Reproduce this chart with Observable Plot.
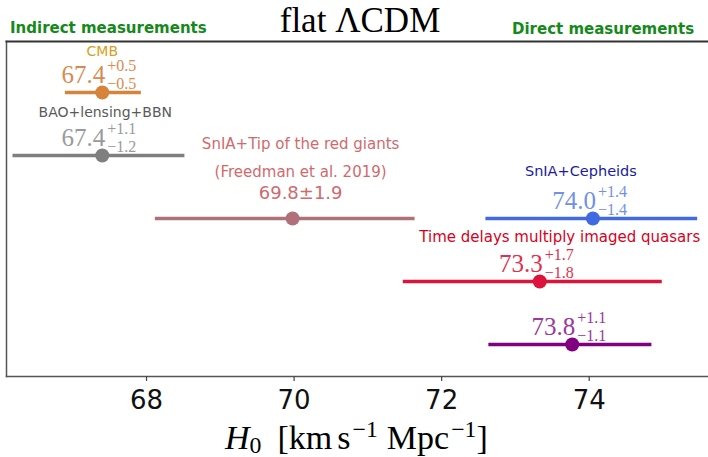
<!DOCTYPE html>
<html>
<head>
<meta charset="utf-8">
<script src="https://cdn.jsdelivr.net/npm/d3@7"></script>
<script src="https://cdn.jsdelivr.net/npm/@observablehq/plot@0.6"></script>
<style>
  html, body { margin: 0; padding: 0; background: #fff; }
  #wrap { position: relative; width: 708px; height: 457px; overflow: hidden; }
  #chart { position: absolute; left: 0; top: 0; }
  .ov { position: absolute; white-space: nowrap; line-height: 1; }
  .serif { font-family: "Liberation Serif", "DejaVu Serif", serif; }
  .green { font-family: "DejaVu Sans", sans-serif; font-weight: bold; font-size: 15px; color: #15891a; }
  .ov sub, .ov sup { font-size: 0.7em; line-height: 0; position: relative; vertical-align: baseline; }
  .ov sub { top: 0.18em; }
  .ov sup { top: -0.5em; margin-left: 2px; }
</style>
</head>
<body>
<div id="wrap">
  <div id="chart"></div>
  <div class="ov serif" id="title" style="font-size:35px; left:360px; top:3.2px; transform:translateX(-50%);">flat ΛCDM</div>
  <div class="ov green" style="left:10px; top:20.6px;">Indirect measurements</div>
  <div class="ov green" style="left:512px; top:22.3px;">Direct measurements</div>
  <div class="ov serif" id="xlabel" style="font-size:34px; left:225px; top:421px; height:34px;"><i>H</i><sub>0</sub><span style="margin-left:16px">[km</span><span style="margin-left:5px">s</span><sup>−1</sup><span style="margin-left:9px">Mpc</span><sup>−1</sup>]</div>
</div>
<script>
// ---- data ----
const names    = ["CMB", "BAO+lensing+BBN", "SnIA+Tip of the red giants", "SnIA+Cepheids", "Time delays multiply imaged quasars", ""];
const subNames = ["", "", "(Freedman et al. 2019)", "", "", ""];
const rows     = ["r1", "r2", "r3", "r3", "r4", "r5"];
const h0       = [67.4, 67.4, 69.98, 74.05, 73.33, 73.77];
const errLo    = [66.90, 66.19, 68.12, 72.60, 71.48, 72.64];
const errHi    = [67.93, 68.52, 71.64, 75.47, 74.99, 74.85];
const valMain  = ["67.4", "67.4", "69.8±1.9", "74.0", "73.3", "73.8"];
const valPlus  = ["+0.5", "+1.1", "", "+1.4", "+1.7", "+1.1"];
const valMinus = ["−0.5", "−1.2", "", "−1.4", "−1.8", "−1.1"];
const xTicks   = [68, 70, 72, 74];
const xDomain  = [66.102, 75.617];

// ---- styles ----
const lineColors = ["#d6843c", "#7f7f7f", "#b0707a", "#4169e1", "#dc143c", "#800080"];
const nameColors = ["#d4a020", "#5a5a5a", "#d06a6e", "#1c1c9c", "#d8001c", "#800080"];
const valColors  = ["#d98a50", "#9a9a9a", "#d06a6e", "#7190e8", "#e0304e", "#9a3a9a"];
const nameLayout = [
  {dx: 0,  dy: -41,   size: 14},
  {dx: 3,  dy: -42.5, size: 14},
  {dx: 8,  dy: -74.5, size: 15},
  {dx: -12, dy: -47.3, size: 14.5},
  {dx: 20, dy: -44,   size: 15},
  {dx: 0,  dy: 0,     size: 14}
];

const data = names.map((n, i) => ({
  i, name: n, sub: subNames[i], row: rows[i], h0: h0[i], lo: errLo[i], hi: errHi[i],
  main: valMain[i], plus: valPlus[i], minus: valMinus[i],
  line: lineColors[i], nameColor: nameColors[i], valColor: valColors[i]
}));

const sans = "DejaVu Sans, sans-serif";
const serif = "Liberation Serif, DejaVu Serif, serif";

const marks = [
  Plot.frame({anchor: "left", stroke: "#555", strokeWidth: 1.5}),
  Plot.frame({anchor: "top", stroke: "#333", strokeWidth: 2}),
  Plot.frame({anchor: "bottom", stroke: "#555", strokeWidth: 1.5}),
  Plot.axisX(xTicks, {tickSize: 5, tickPadding: 9, fontSize: 26, fontFamily: sans, fill: "#111", stroke: "#444", strokeWidth: 1.2, label: null}),
  Plot.ruleY(data, {y: "row", x1: "lo", x2: "hi", stroke: d => d.line, strokeWidth: 3.6}),
  Plot.dot(data, {x: "h0", y: "row", r: 7, fill: d => d.line, stroke: "none"})
];

// name labels
data.forEach((d, i) => {
  const L = nameLayout[i];
  if (d.name) marks.push(Plot.text([d], {x: "h0", y: "row", text: "name", dx: L.dx, dy: L.dy, fill: d.nameColor, fontSize: L.size, fontFamily: sans}));
  if (d.sub) marks.push(Plot.text([d], {x: "h0", y: "row", text: "sub", dx: L.dx, dy: L.dy + 27.7, fill: d.nameColor, fontSize: L.size, fontFamily: sans}));
});

// value labels: LaTeX-like main value with stacked super/subscripts
const latex = data.filter(d => d.plus);
const plain = data.filter(d => !d.plus);
marks.push(
  Plot.text(latex, {x: "h0", y: "row", text: "main", textAnchor: "end", lineAnchor: "bottom", dx: 3, dy: -10, fill: d => d.valColor, fontSize: 25, fontFamily: serif}),
  Plot.text(latex, {x: "h0", y: "row", text: "plus", textAnchor: "start", lineAnchor: "bottom", dx: 5, dy: -21.5, fill: d => d.valColor, fontSize: 16, fontFamily: serif}),
  Plot.text(latex, {x: "h0", y: "row", text: "minus", textAnchor: "start", lineAnchor: "bottom", dx: 5, dy: -3.5, fill: d => d.valColor, fontSize: 16, fontFamily: serif}),
  Plot.text(plain, {x: "h0", y: "row", text: "main", dx: 8, dy: -25.5, fill: d => d.valColor, fontSize: 18, fontFamily: sans})
);

const chart = Plot.plot({
  width: 708,
  height: 457,
  marginTop: 41,
  marginBottom: 81,
  marginLeft: 6,
  marginRight: 0,
  style: {background: "white", overflow: "visible"},
  x: {domain: xDomain, label: null},
  y: {type: "point", domain: ["r1", "r2", "r3", "r4", "r5"], padding: 0, insetTop: 51, insetBottom: 31.7, axis: null},
  marks
});
document.getElementById("chart").appendChild(chart);
</script>
</body>
</html>
